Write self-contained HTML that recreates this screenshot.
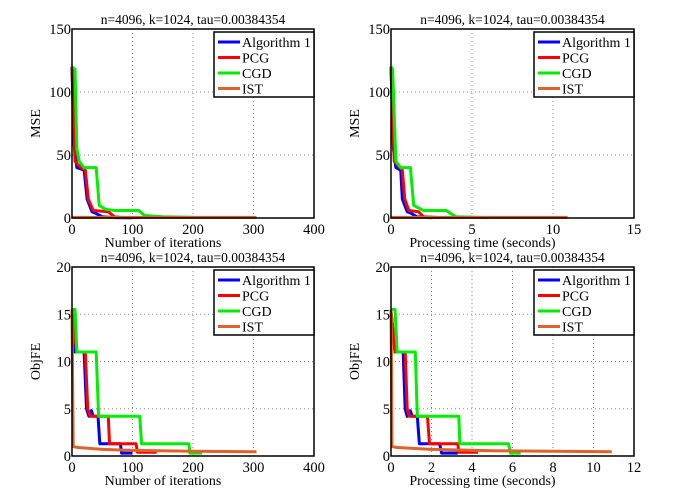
<!DOCTYPE html>
<html><head><meta charset="utf-8"><style>
body{margin:0;background:#fff}
svg{display:block;font-family:"Liberation Serif",serif}
</style></head><body>
<svg id="c" width="698" height="490" viewBox="0 0 698 490"></svg>
<script>
const seriesNames=["Algorithm 1","PCG","CGD","IST"];
const colors=["#0000ff","#ff0000","#00ee00","#e0622a"];
const title="n=4096, k=1024, tau=0.00384354";
// panel A: MSE vs iterations
const aAlgX=[0,3,8,20,25,33,38,50,70,100], aAlgY=[120,60,40,38,15,5,4,1,0.3,0.2];
const aPcgX=[0,5,10,22,27,35,60,70,80,110], aPcgY=[120,45,42,38,15,6,5,1,0.5,0.3];
const aCgdX=[0,5,8,12,20,40,45,55,70,110,120,150,200], aCgdY=[120,118,55,45,40,40,10,7,6,6,2,1,0.5];
const aIstX=[0,305], aIstY=[0.5,0.5];
// panel B: MSE vs time
const bAlgX=[0,0.15,0.3,0.6,0.7,1,1.2,1.6,2.5], bAlgY=[120,55,40,38,15,5,4,1,0.2];
const bPcgX=[0,0.2,0.7,0.85,1.1,1.7,2,3], bPcgY=[120,45,38,15,6,5,1,0.3];
const bCgdX=[0,0.1,0.3,0.6,1.2,1.4,2,3.4,4,6], bCgdY=[120,118,45,40,40,10,6,6,1,0.3];
const bIstX=[0,10.9], bIstY=[0.5,0.5];
// panel C: ObjFE vs iterations
const cAlgX=[0,5,20,24,28,32,35,43,46,80,82,100], cAlgY=[15.3,11,11,5,4.2,4.8,4.2,4.2,1.3,1.3,0.3,0.3];
const cPcgX=[0,8,22,26,30,60,62,106,108,140], cPcgY=[15.3,11,11,5,4.2,4.2,1.3,1.3,0.4,0.4];
const cCgdX=[0,5,8,40,44,112,115,193,195,215], cCgdY=[15.5,15.5,11,11,4.2,4.2,1.3,1.3,0.3,0.3];
const cIstX=[0,1,2,10,50,100,200,305], cIstY=[15.5,8,1,0.9,0.7,0.6,0.5,0.45];
// panel D: ObjFE vs time
const dAlgX=[0,0.2,0.6,0.7,0.8,0.95,1.05,1.3,1.4,2.4,2.5,3.3], dAlgY=[15.3,11,11,5,4.2,4.8,4.2,4.2,1.3,1.3,0.3,0.3];
const dPcgX=[0,0.2,0.7,0.8,0.9,1.8,1.9,3.3,3.35,4.3], dPcgY=[15.3,11,11,5,4.2,4.2,1.3,1.3,0.4,0.4];
const dCgdX=[0,0.2,0.3,1.2,1.3,3.35,3.4,5.8,5.9,6.4], dCgdY=[15.5,15.5,11,11,4.2,4.2,1.3,1.3,0.3,0.3];
const dIstX=[0,0.03,0.05,0.3,2,5,10.9], dIstY=[15.5,8,1,0.9,0.7,0.55,0.45];
const xTicksIter=[0,100,200,300,400], xTicksTime15=[0,5,10,15], xTicksTime12=[0,2,4,6,8,10,12];
const yTicksMSE=[0,50,100,150], yTicksObj=[0,5,10,15,20];

const svg=document.getElementById('c');
const NS="http://www.w3.org/2000/svg";
function mk(tag,attrs,parent){const e=document.createElementNS(NS,tag);for(const k in attrs)e.setAttribute(k,attrs[k]);(parent||svg).appendChild(e);return e;}
function panel(id,L,R,T,B,xt,yt,xlab,ylab,data){
  const g=mk('g',{});
  
  
  const xmax=xt[xt.length-1],ymax=yt[yt.length-1];
  const sx=v=>L+(R-L)*v/xmax, sy=v=>B-(B-T)*v/ymax;
  mk('rect',{x:L,y:T,width:R-L,height:B-T,fill:'#fff'},g);
  xt.forEach((v,i)=>{
    if(i>0&&i<xt.length-1){const l=mk('line',{x1:sx(v),x2:sx(v),y1:T,y2:B,stroke:'#888','stroke-dasharray':'1,3','stroke-width':1},g);}
    const t=mk('text',{x:sx(v),y:B+16,'text-anchor':'middle','font-size':14.5},g);t.textContent=v;
    
  });
  yt.forEach((v,i)=>{
    if(i>0&&i<yt.length-1){const l=mk('line',{x1:L,x2:R,y1:sy(v),y2:sy(v),stroke:'#888','stroke-dasharray':'1,3','stroke-width':1},g);}
    const t=mk('text',{x:L-1,y:sy(v)+5,'text-anchor':'end','font-size':14.5},g);t.textContent=v;
    
  });
  data.forEach((d,i)=>{
    const pts=d[0].map((x,j)=>sx(x)+','+sy(d[1][j])).join(' ');
    const p=mk('polyline',{points:pts,fill:'none',stroke:colors[i],'stroke-width':3,'stroke-linejoin':'round'},g);
    
    
  });
  mk('rect',{x:L,y:T,width:R-L,height:B-T,fill:'none',stroke:'#000','stroke-width':1.5},g);
  const tt=mk('text',{x:(L+R)/2,y:T-5,'text-anchor':'middle','font-size':13.5},g);tt.textContent=title;
  
  const xl=mk('text',{x:(L+R)/2-30,y:B+29,'text-anchor':'middle','font-size':14},g);xl.textContent=xlab;
  
  const yl=mk('text',{x:0,y:0,'text-anchor':'middle','font-size':14,transform:`translate(${L-32},${(T+B)/2}) rotate(-90)`},g);yl.textContent=ylab;
  
  const lg=mk('g',{},g);
  
  
  const lx=R-100, ly=T+3;
  mk('rect',{x:lx,y:ly,width:100,height:65,fill:'#fff',stroke:'#000','stroke-width':1.5},lg);
  seriesNames.forEach((n,i)=>{
    const y=ly+10+i*15.5;
    mk('line',{x1:lx+4,x2:lx+26,y1:y,y2:y,stroke:colors[i],'stroke-width':3},lg);
    const t=mk('text',{x:lx+28,y:y+5,'font-size':14},lg);t.textContent=n;
    
  });
}
panel('mse-iterations-chart',72,314,29,218,xTicksIter,yTicksMSE,'Number of iterations','MSE',[[aAlgX,aAlgY],[aPcgX,aPcgY],[aCgdX,aCgdY],[aIstX,aIstY]]);
panel('mse-time-chart',391,634,29,218,xTicksTime15,yTicksMSE,'Processing time (seconds)','MSE',[[bAlgX,bAlgY],[bPcgX,bPcgY],[bCgdX,bCgdY],[bIstX,bIstY]]);
panel('objfe-iterations-chart',72,314,267,456,xTicksIter,yTicksObj,'Number of iterations','ObjFE',[[cAlgX,cAlgY],[cPcgX,cPcgY],[cCgdX,cCgdY],[cIstX,cIstY]]);
panel('objfe-time-chart',391,634,267,456,xTicksTime12,yTicksObj,'Processing time (seconds)','ObjFE',[[dAlgX,dAlgY],[dPcgX,dPcgY],[dCgdX,dCgdY],[dIstX,dIstY]]);
</script>
</body></html>
